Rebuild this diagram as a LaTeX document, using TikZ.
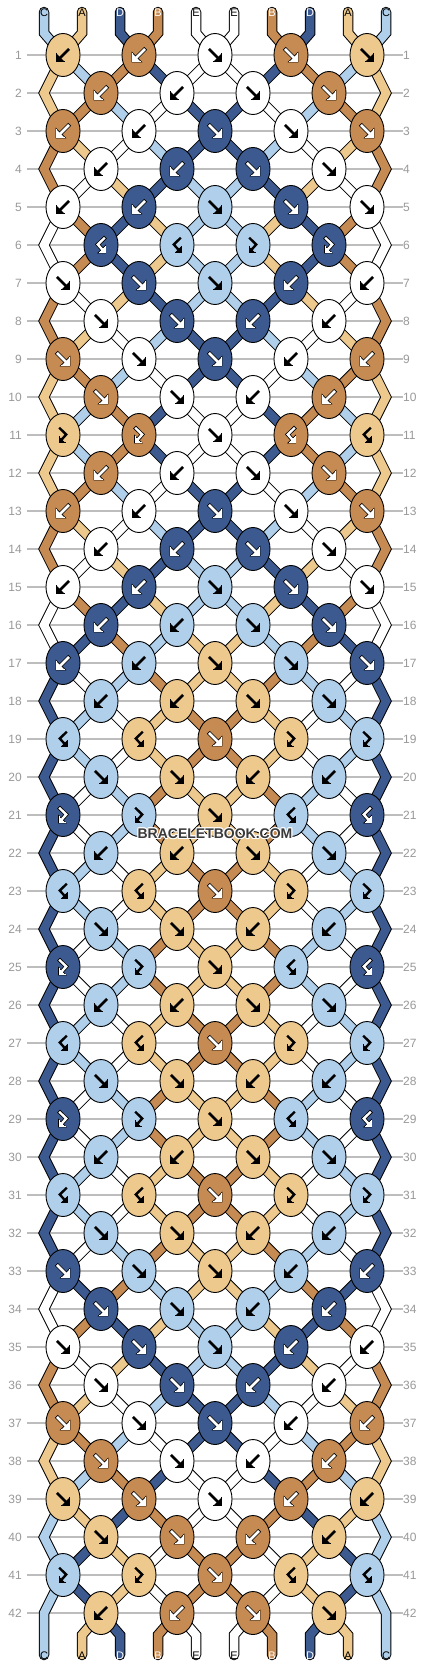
\documentclass[tikz,border=0pt]{standalone}
\usepackage{fontspec}
\setmainfont{Liberation Sans}
\definecolor{colC}{HTML}{AFCFEB}
\definecolor{colA}{HTML}{EEC98E}
\definecolor{colD}{HTML}{3C5A8F}
\definecolor{colB}{HTML}{C68B52}
\definecolor{colE}{HTML}{FFFFFF}
\definecolor{rowgray}{HTML}{BDBDBD}
\definecolor{numgray}{HTML}{999999}
\definecolor{wmark}{HTML}{3A3A3A}
\def\darkD{}\def\darkB{}
\def\tyf{f}\def\tyb{b}\def\tyfb{fb}\def\tybf{bf}
\def\knotrows{{b,b,f,f,f},{b,b,f,f},{b,b,f,f,f},{b,b,f,f},{b,b,f,f,f},{bf,bf,fb,fb},%
{f,f,f,b,b},{f,f,b,b},{f,f,f,b,b},{f,f,b,b},{fb,fb,f,bf,bf},{b,b,f,f},%
{b,b,f,f,f},{b,b,f,f},{b,b,f,f,f},{b,b,f,f},{b,b,f,f,f},{b,b,f,f},%
{bf,bf,f,fb,fb},{f,f,b,b},{fb,fb,f,bf,bf},{b,b,f,f},{bf,bf,f,fb,fb},{f,f,b,b},%
{fb,fb,f,bf,bf},{b,b,f,f},{bf,bf,f,fb,fb},{f,f,b,b},{fb,fb,f,bf,bf},{b,b,f,f},%
{bf,bf,f,fb,fb},{f,f,b,b},{f,f,f,b,b},{f,f,b,b},{f,f,f,b,b},{f,f,b,b},%
{f,f,f,b,b},{f,f,b,b},{f,f,f,b,b},{f,f,b,b},{fb,fb,f,bf,bf},{b,b,f,f}}
% text colours of the string letters
\def\txtC{black}\def\txtA{black}\def\txtD{white}\def\txtB{white}\def\txtE{black}
% knot glyphs: #1 colour, #2 extra width (outline)
\newcommand\glyphf[2]{%
  \draw[#1, line width=2.6pt+#2, line cap=rect] (-5.2,-5.2)--(2.2,2.2);
  \filldraw[#1, line width=#2, line join=miter] (6.5,6.5)--(-1.5,6.5)--(6.5,-1.5)--cycle;}
\newcommand\glyphb[2]{%
  \draw[#1, line width=2.6pt+#2, line cap=rect] (5.2,-5.2)--(-2.2,2.2);
  \filldraw[#1, line width=#2, line join=miter] (-6.5,6.5)--(1.5,6.5)--(-6.5,-1.5)--cycle;}
\newcommand\glyphfb[2]{%
  \draw[#1, line width=2.4pt+#2, line cap=rect, line join=miter] (-3,-6.5)--(3.2,-0.5)--(-1,4.2);
  \filldraw[#1, line width=#2, line join=miter] (-4,7.5)--(-4,1.5)--(2,7.5)--cycle;}
\newcommand\glyphbf[2]{%
  \draw[#1, line width=2.4pt+#2, line cap=rect, line join=miter] (3,-6.5)--(-3.2,-0.5)--(1,4.2);
  \filldraw[#1, line width=#2, line join=miter] (4,7.5)--(4,1.5)--(-2,7.5)--cycle;}
% x of position #1 at row #2
\newcommand\locx[2]{%
  \ifodd#2\relax
    \pgfmathsetmacro\lx{63+76*floor((#1-1)/2)}%
  \else
    \ifnum#1=1 \def\lx{44}\else\ifnum#1=10 \def\lx{386}\else
      \pgfmathsetmacro\lx{101+76*(floor(#1/2)-1)}\fi\fi
  \fi}
% strands: #1 line width, #2 = 1 for colour pass
\newcommand\strands[2]{%
  \foreach \rr in {1,...,41}{%
    \pgfmathtruncatemacro\rn{\rr+1}%
    \pgfmathsetmacro\ya{55+38*(\rr-1)}%
    \pgfmathsetmacro\yb{55+38*\rr}%
    \foreach \pp in {2,...,9}{%
      \locx{\pp}{\rr}\let\xa\lx
      \locx{\pp}{\rn}\let\xb\lx
      \ifnum#2=1 \edef\scol{col\csname ST-\rr-\pp\endcsname}\else\def\scol{black}\fi
      \draw[line width=#1, color=\scol] (\xa,\ya) -- (\xb,\yb);
    }%
  }%
  \foreach \rr in {2,4,...,40}{%
    \pgfmathsetmacro\ya{55+38*(\rr-2)}%
    \pgfmathsetmacro\yb{55+38*(\rr-1)}%
    \pgfmathsetmacro\yc{55+38*\rr}%
    \foreach \pp/\xo/\xe in {1/63/44,10/367/386}{%
      \ifnum#2=1 \edef\scol{col\csname ST-\rr-\pp\endcsname}\else\def\scol{black}\fi
      \draw[line width=#1, color=\scol, line join=miter] (\xo,\ya) -- (\xe,\yb) -- (\xo,\yc);
    }%
  }%
  \foreach \pp/\xo/\xe in {1/63/44,10/367/386}{%
    \ifnum#2=1 \edef\scol{col\csname ST-42-\pp\endcsname}\else\def\scol{black}\fi
    \draw[line width=#1, color=\scol, line join=miter, line cap=round] (\xo,1575) -- (\xe,1613) -- (\xe,1655);
  }%
  \foreach \pp in {1,...,10}{%
    \pgfmathsetmacro\xp{44+38*(\pp-1)}%
    \locx{\pp}{1}\let\xa\lx
    \ifnum#2=1 \edef\scol{col\csname ST-0-\pp\endcsname}\else\def\scol{black}\fi
    \draw[line width=#1, color=\scol, line cap=round] (\xp,12) -- (\xp,33) -- (\xa,55);
  }%
  \foreach \pp in {2,...,9}{%
    \pgfmathsetmacro\xp{44+38*(\pp-1)}%
    \locx{\pp}{42}\let\xa\lx
    \ifnum#2=1 \edef\scol{col\csname ST-42-\pp\endcsname}\else\def\scol{black}\fi
    \draw[line width=#1, color=\scol, line cap=round] (\xa,1613) -- (\xp,1635) -- (\xp,1655);
  }%
}
\begin{document}
\begin{tikzpicture}[x=1pt,y=-1pt]
% ---- simulate the strings ----
\foreach \initc [count=\i] in {C,A,D,B,E,E,B,D,A,C}{%
  \expandafter\xdef\csname S\i\endcsname{\initc}%
  \expandafter\xdef\csname ST-0-\i\endcsname{\initc}}%
\foreach \row [count=\rr] in \knotrows {%
  \foreach \kt [count=\kk] in \row {%
    \ifodd\rr\relax\pgfmathtruncatemacro\kp{2*\kk-1}\else\pgfmathtruncatemacro\kp{2*\kk}\fi
    \pgfmathtruncatemacro\kq{\kp+1}%
    \edef\Lc{\csname S\kp\endcsname}%
    \edef\Rc{\csname S\kq\endcsname}%
    \edef\ktype{\kt}%
    \let\kc\Rc
    \ifx\ktype\tyf\let\kc\Lc\fi
    \ifx\ktype\tyfb\let\kc\Lc\fi
    \expandafter\xdef\csname KC-\rr-\kk\endcsname{\kc}%
    \def\doswap{0}%
    \ifx\ktype\tyf\def\doswap{1}\fi
    \ifx\ktype\tyb\def\doswap{1}\fi
    \if1\doswap
      \expandafter\xdef\csname S\kp\endcsname{\Rc}%
      \expandafter\xdef\csname S\kq\endcsname{\Lc}%
    \fi
  }%
  \foreach \i in {1,...,10}{\expandafter\xdef\csname ST-\rr-\i\endcsname{\csname S\i\endcsname}}%
}%
% ---- canvas ----
\fill[white] (0,0) rectangle (430,1668);
\useasboundingbox (0,0) rectangle (430,1668);
% ---- row lines and numbers ----
\foreach \rr in {1,...,42}{%
  \pgfmathsetmacro\yy{55+38*(\rr-1)}%
  \draw[rowgray, line width=1.2pt] (27,\yy) -- (403,\yy);
  \node[anchor=east, text=numgray, inner sep=0pt, font=\fontsize{12}{12}\selectfont] (nl\rr) at (22,\yy) {\rr};
  \node[anchor=west, text=numgray, inner sep=0pt, font=\fontsize{12}{12}\selectfont] (nr\rr) at (403,\yy) {\rr};
}
% ---- strands ----
\strands{10.5pt}{0}
\strands{8.5pt}{1}
% ---- knots ----
\foreach \row [count=\rr] in \knotrows {%
  \pgfmathsetmacro\ky{55+38*(\rr-1)}%
  \foreach \kt [count=\kk] in \row {%
    \ifodd\rr\relax\pgfmathsetmacro\kx{63+76*(\kk-1)}\else\pgfmathsetmacro\kx{101+76*(\kk-1)}\fi
    \edef\kc{\csname KC-\rr-\kk\endcsname}%
    \edef\kcol{col\kc}%
    \filldraw[fill=\kcol, draw=black, line width=0.9pt] (\kx,\ky) ellipse [x radius=17, y radius=21.5];
    \begin{scope}[shift={(\kx,\ky)}]
      \ifcsname dark\kc\endcsname
        \csname glyph\kt\endcsname{black}{1.6pt}%
        \csname glyph\kt\endcsname{white}{0pt}%
      \else
        \csname glyph\kt\endcsname{black}{0pt}%
      \fi
    \end{scope}
  }%
}
% ---- string letters ----
\foreach \lt [count=\i] in {C,A,D,B,E,E,B,D,A,C}{%
  \pgfmathsetmacro\xp{44+38*(\i-1)}%
  \edef\tcol{\csname txt\lt\endcsname}%
  \node[text=\tcol, inner sep=0pt, font=\fontsize{11}{11}\selectfont] (top\i) at (\xp,12.5) {\lt};
  \node[text=\tcol, inner sep=0pt, font=\fontsize{11}{11}\selectfont] (bot\i) at (\xp,1656) {\lt};
}
% ---- watermark ----
\foreach \dx/\dy in {-1/0,1/0,0/-1,0/1,-0.8/-0.8,0.8/0.8,-0.8/0.8,0.8/-0.8}{%
  \node[text=white, font=\bfseries\fontsize{14}{14}\selectfont] at (215+\dx,833.5+\dy) {BRACELETBOOK.COM};
}
\node[text=wmark, font=\bfseries\fontsize{14}{14}\selectfont] (wm) at (215,833.5) {BRACELETBOOK.COM};
\end{tikzpicture}
\end{document}
